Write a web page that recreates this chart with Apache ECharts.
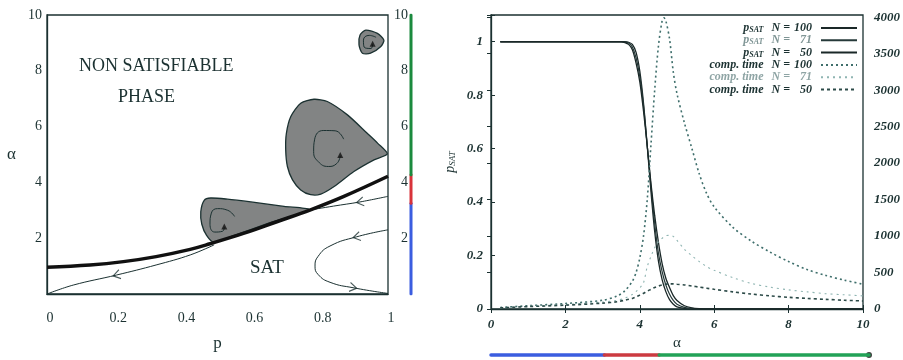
<!DOCTYPE html>
<html><head><meta charset="utf-8">
<script src="https://cdn.jsdelivr.net/npm/echarts@6/dist/echarts.min.js"></script>
<style>html,body{margin:0;padding:0;background:#fff}#c{width:903px;height:360px}</style>
</head><body><div id="c"></div>
<script>
// ---------- LEFT PANEL: phase diagram (p, alpha) ----------
const thickCurve = [[0,0.96],[0.126,1.04],[0.224,1.16],[0.32,1.34],[0.42,1.6],[0.478,1.8],[0.576,2.17],[0.674,2.59],[0.771,3.01],[0.869,3.49],[1,4.22]];
const thinFromOrigin = [[0,0],[0.077,0.32],[0.204,0.68],[0.32,1.04],[0.42,1.40],[0.49,1.76]];
const thinUpperRight = [[1,3.5],[0.918,3.3],[0.84,3.15],[0.771,3.01]];
const thinLowerRight = [[1,2.3],[0.908,2.05],[0.83,1.72],[0.795,1.35],[0.786,1.0],[0.795,0.7],[0.83,0.42],[0.9,0.22],[1,0.02]];
const bigDrop = [[0.998,5.02],[0.97,5.4],[0.939,5.76],[0.881,6.42],[0.822,6.9],[0.783,6.98],[0.744,6.84],[0.715,6.36],[0.702,5.76],[0.70,5.17],[0.705,4.57],[0.72,4.09],[0.744,3.73],[0.773,3.56],[0.803,3.58],[0.842,3.85],[0.9,4.39],[0.959,4.81]];
const medDrop = [[0.769,3.02],[0.695,3.14],[0.598,3.3],[0.529,3.4],[0.48,3.44],[0.461,3.36],[0.451,2.95],[0.454,2.5],[0.468,2.1],[0.49,1.85],[0.549,2.1],[0.646,2.52]];
const smallDrop = [[0.935,9.46],[0.969,9.34],[0.988,9.1],[0.979,8.87],[0.949,8.63],[0.925,8.63],[0.915,8.93],[0.918,9.28]];
const bigLoop = [[0.87,5.55],[0.845,5.85],[0.81,5.86],[0.785,5.55],[0.782,5.1],[0.795,4.75],[0.825,4.57],[0.85,4.68],[0.86,4.95]];
const medLoop = [[0.55,2.78],[0.53,3.0],[0.5,3.06],[0.482,2.9],[0.478,2.5],[0.492,2.22],[0.515,2.25],[0.52,2.4]];
const smallLoop = [[0.965,9.2],[0.945,9.27],[0.928,9.1],[0.93,8.85],[0.95,8.8],[0.955,8.95]];
const flowArrowPos = [[0.204,0.68],[0.918,3.3],[0.908,2.05],[0.898,0.23]];
const flowArrowAngle = [14, 10, 12, 170];
const loopArrowPos = [[0.52,2.42],[0.86,4.98],[0.955,8.97]];
const colorbarBreaks = [0, 3.25, 4.27, 10];

// ---------- RIGHT PANEL: p_SAT and computational time vs alpha ----------
const alphaPsat = [0.25,3.3,3.5,3.6,3.7,3.8,3.9,4.0,4.1,4.2,4.3,4.4,4.5,4.6,4.7,4.8,4.9,5.0,5.2,5.4,5.6,5.8,10];
const psat100 = [1,1,1,1,0.998,0.99,0.96,0.89,0.77,0.61,0.44,0.29,0.18,0.11,0.065,0.035,0.018,0.008,0.002,0,0,0,0];
const psat71  = [1,1,1,0.999,0.995,0.98,0.94,0.87,0.76,0.61,0.46,0.32,0.21,0.14,0.09,0.055,0.032,0.018,0.006,0.002,0,0,0];
const psat50  = [1,1,1,0.997,0.99,0.97,0.92,0.85,0.74,0.61,0.47,0.35,0.25,0.17,0.115,0.08,0.05,0.032,0.012,0.004,0.001,0,0];
const alphaTime = [0.25,1,2,3,3.4,3.6,3.8,3.9,4.0,4.1,4.2,4.3,4.4,4.5,4.6,4.65,4.7,4.8,4.9,5.0,5.2,5.4,5.6,5.8,6.0,6.5,7,7.5,8,8.5,9,9.5,10];
const time100 = [20,45,75,120,180,250,380,500,700,1000,1500,2250,3000,3600,3950,3990,3950,3700,3250,2950,2550,2200,1850,1580,1400,1120,930,780,650,540,460,395,340];
const time71  = [15,38,62,95,120,150,200,240,290,360,580,720,840,920,970,990,1005,1010,995,940,820,730,650,580,530,430,350,300,262,235,210,195,180];
const time50  = [15,33,52,80,100,120,145,165,190,215,245,270,295,315,330,335,340,345,345,340,330,315,300,285,270,235,205,180,160,145,132,120,110];
const bottomBarBreaks = [0, 3.0, 4.45, 10];

const zip = (xs, ys) => xs.map((x, i) => [x, ys[i]]);
const INK = '#1b3131';
const serif = 'Liberation Serif';

function polyRender(pts) {
  return function (params, api) {
    if (params.dataIndex !== 0) return null;
    return {
      type: 'polygon',
      shape: { points: pts.map(p => api.coord(p)), smooth: 0.25 },
      style: { fill: '#828484', stroke: INK, lineWidth: 1.3 }
    };
  };
}
function poly(pts) {
  return { type: 'custom', xAxisIndex: 0, yAxisIndex: 0, renderItem: polyRender(pts), data: pts, z: 2, silent: true };
}
function thin(pts, w, smooth) {
  return { type: 'line', xAxisIndex: 0, yAxisIndex: 0, data: pts, symbol: 'none', smooth: smooth === undefined ? 0.4 : smooth,
    lineStyle: { color: INK, width: w }, z: 3, silent: true };
}
function segLine(xi, yi, pts, color, w) {
  return { type: 'line', xAxisIndex: xi, yAxisIndex: yi, data: pts, symbol: 'none', lineStyle: { color, width: w, cap: 'round' }, silent: true };
}
function rightLine(name, yi, pts, color, width, type) {
  return { name, type: 'line', xAxisIndex: 1, yAxisIndex: yi, data: pts, symbol: 'none', smooth: 0.3,
    itemStyle: { color }, lineStyle: { color, width, type } };
}

const legendNames = {
  psat100: { k: 'p', n: '100' }, psat71: { k: 'p', n: '71' }, psat50: { k: 'p', n: '50' },
  time100: { k: 't', n: '100' }, time71: { k: 't', n: '71' }, time50: { k: 't', n: '50' }
};

const option = {
  animation: false,
  backgroundColor: '#ffffff',
  grid: [
    { left: 47, right: 515, top: 15, bottom: 66, show: true, borderColor: INK, borderWidth: 1.3 },
    { left: 491, right: 34, top: 15, bottom: 51, show: true, borderColor: INK, borderWidth: 1.3 },
    { left: 410, width: 2, top: 15, bottom: 66 },
    { left: 491, right: 34, top: 350, height: 10 }
  ],
  xAxis: [
    { gridIndex: 0, type: 'value', min: 0, max: 1, interval: 0.2, splitLine: { show: false },
      axisLine: { lineStyle: { color: INK, width: 1.3 } }, axisTick: { show: false },
      axisLabel: { color: INK, fontFamily: serif, fontSize: 14, margin: 17, padding: [0, 0, 0, 6] },
      name: 'p', nameLocation: 'middle', nameGap: 41, nameTextStyle: { color: INK, fontFamily: serif, fontSize: 17 } },
    { gridIndex: 1, type: 'value', min: 0, max: 10, interval: 2, splitLine: { show: false },
      axisLine: { lineStyle: { color: INK, width: 1.3 } }, axisTick: { inside: true, length: 4, lineStyle: { color: INK } },
      axisLabel: { color: INK, fontFamily: serif, fontStyle: 'italic', fontWeight: 'bold', fontSize: 13, margin: 9 },
      name: 'α', nameLocation: 'middle', nameGap: 25, nameTextStyle: { color: INK, fontFamily: serif, fontSize: 15 } },
    { gridIndex: 1, type: 'value', position: 'top', min: 0, max: 10, interval: 2, splitLine: { show: false },
      axisLine: { show: false }, axisTick: { inside: true, length: 4, lineStyle: { color: INK } }, axisLabel: { show: false } },
    { gridIndex: 2, type: 'value', min: -1, max: 1, show: false },
    { gridIndex: 3, type: 'value', min: 0, max: 10, show: false }
  ],
  yAxis: [
    { gridIndex: 0, type: 'value', min: 0, max: 10, interval: 2, splitLine: { show: false },
      axisLine: { lineStyle: { color: INK, width: 1.3 } }, axisTick: { show: false },
      axisLabel: { color: INK, fontFamily: serif, fontSize: 14, margin: 5, formatter: v => v === 0 ? '' : String(v) },
      name: 'α', nameLocation: 'middle', nameGap: 31, nameRotate: 0, nameTextStyle: { color: INK, fontFamily: serif, fontSize: 17 } },
    { gridIndex: 1, type: 'value', min: 0, max: 1.1, interval: 0.2, splitLine: { show: false },
      axisLine: { lineStyle: { color: INK, width: 1.3 } }, axisTick: { inside: true, length: 4, lineStyle: { color: INK } },
      axisLabel: { color: INK, fontFamily: serif, fontStyle: 'italic', fontWeight: 'bold', fontSize: 13, margin: 8,
        formatter: v => v > 1.05 ? '' : (Math.round(v * 10) / 10).toString() },
      name: '{p|p}{s|SAT}', nameLocation: 'middle', nameGap: 34, nameRotate: 90,
      nameTextStyle: { color: INK, rich: { p: { fontFamily: serif, fontStyle: 'italic', fontSize: 14 }, s: { fontFamily: serif, fontStyle: 'italic', fontSize: 9, verticalAlign: 'bottom', lineHeight: 8 } } } },
    { gridIndex: 1, type: 'value', position: 'right', min: 0, max: 4030, interval: 500, splitLine: { show: false },
      axisLine: { show: false }, axisTick: { inside: true, length: 4, lineStyle: { color: INK } },
      axisLabel: { color: INK, fontFamily: serif, fontStyle: 'italic', fontWeight: 'bold', fontSize: 13, margin: 11,
        formatter: v => v % 500 === 0 ? String(v) : '' } },
    { gridIndex: 2, type: 'value', min: 0, max: 10, interval: 2, splitLine: { show: false },
      axisLine: { show: false }, axisTick: { show: false },
      axisLabel: { color: INK, fontFamily: serif, fontSize: 14, margin: 2, formatter: v => v === 0 ? '' : String(v) } },
    { gridIndex: 3, type: 'value', min: -1, max: 1, show: false }
  ],
  legend: {
    orient: 'vertical', right: 45, top: 22, padding: 0, align: 'right', itemWidth: 36, itemHeight: 8, itemGap: 0.3,
    selectedMode: false,
    itemStyle: { opacity: 0 },
    data: [
      { name: 'psat100' }, { name: 'psat71', textStyle: { color: '#7f9595' } }, { name: 'psat50' },
      { name: 'time100' }, { name: 'time71', textStyle: { color: '#8fa5a5' } }, { name: 'time50' }
    ],
    formatter: name => {
      const m = legendNames[name];
      const head = m.k === 'p' ? '{a|p}{s|SAT}' : '{a|comp. time}';
      return head + '{n|N =}{v|' + m.n + '}';
    },
    textStyle: {
      color: INK, fontFamily: serif, fontStyle: 'italic', fontWeight: 'bold', fontSize: 12, lineHeight: 12,
      rich: {
        a: { fontFamily: serif, fontStyle: 'italic', fontWeight: 'bold', fontSize: 12, lineHeight: 12 },
        s: { fontFamily: serif, fontStyle: 'italic', fontWeight: 'bold', fontSize: 8, lineHeight: 6, verticalAlign: 'bottom' },
        n: { fontFamily: serif, fontStyle: 'italic', fontWeight: 'bold', fontSize: 12, lineHeight: 12, padding: [0, 0, 0, 8] },
        v: { fontFamily: serif, fontStyle: 'italic', fontWeight: 'bold', fontSize: 12, lineHeight: 12, width: 22, align: 'right', padding: [0, 4, 0, 0] }
      }
    }
  },
  graphic: [
    { type: 'text', left: 79, top: 57, style: { text: 'NON SATISFIABLE', fill: INK, font: '18px "Liberation Serif"' } },
    { type: 'text', left: 118, top: 88, style: { text: 'PHASE', fill: INK, font: '18px "Liberation Serif"' } },
    { type: 'text', left: 250, top: 259, style: { text: 'SAT', fill: INK, font: '19px "Liberation Serif"' } }
  ],
  series: [
    // left panel
    poly(bigDrop), poly(medDrop), poly(smallDrop),
    thin(bigLoop, 1, 0.5), thin(medLoop, 1, 0.5), thin(smallLoop, 1, 0.5),
    thin(thinFromOrigin, 1), thin(thinUpperRight, 1), thin(thinLowerRight, 1, 0.5),
    { type: 'line', xAxisIndex: 0, yAxisIndex: 0, data: thickCurve, symbol: 'none', smooth: 0.4,
      lineStyle: { color: '#111', width: 3.5 }, z: 4, silent: true },
    { type: 'scatter', xAxisIndex: 0, yAxisIndex: 0, silent: true, z: 5,
      symbol: 'path://M10,0L0,5L10,10', symbolSize: [7, 9],
      itemStyle: { color: 'none', borderColor: INK, borderWidth: 1.1 },
      data: flowArrowPos.map((p, i) => ({ value: p, symbolRotate: flowArrowAngle[i] })) },
    { type: 'scatter', xAxisIndex: 0, yAxisIndex: 0, silent: true, z: 5, symbol: 'triangle', symbolSize: 6,
      itemStyle: { color: '#111' }, data: loopArrowPos },
    // colorbar (left)
    segLine(3, 3, [[0, colorbarBreaks[0]], [0, colorbarBreaks[1]]], '#3b5de0', 3),
    segLine(3, 3, [[0, colorbarBreaks[1]], [0, colorbarBreaks[2]]], '#d8333a', 3),
    segLine(3, 3, [[0, colorbarBreaks[2]], [0, colorbarBreaks[3]]], '#1b8a3e', 3),
    // right panel
    rightLine('psat100', 1, zip(alphaPsat, psat100), '#1a2828', 1.3, 'solid'),
    rightLine('psat71', 1, zip(alphaPsat, psat71), '#263a3a', 1.2, 'solid'),
    rightLine('psat50', 1, zip(alphaPsat, psat50), '#1a2828', 1.3, 'solid'),
    rightLine('time100', 2, zip(alphaTime, time100), '#3f6f6c', 1.6, [2, 3]),
    rightLine('time71', 2, zip(alphaTime, time71), '#8fb5b2', 1.1, [2, 4]),
    rightLine('time50', 2, zip(alphaTime, time50), '#2c4a48', 1.6, [3, 3]),
    // bottom colour bar (right)
    segLine(4, 4, [[bottomBarBreaks[0], 0], [bottomBarBreaks[1], 0]], '#3b5de0', 3.5),
    segLine(4, 4, [[bottomBarBreaks[1], 0], [bottomBarBreaks[2], 0]], '#cc3a40', 3.5),
    segLine(4, 4, [[bottomBarBreaks[2], 0], [bottomBarBreaks[3], 0]], '#22a257', 3.5),
    { type: 'scatter', xAxisIndex: 4, yAxisIndex: 4, data: [[bottomBarBreaks[3], 0]], symbol: 'circle', symbolSize: 6,
      itemStyle: { color: '#111' }, silent: true }
  ]
};
const chart = echarts.init(document.getElementById('c'), null, { renderer: 'canvas' });
chart.setOption(option);
</script></body></html>
